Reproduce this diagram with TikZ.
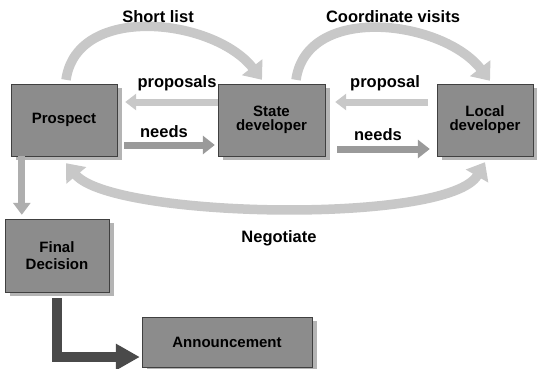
\documentclass[tikz,border=0pt]{standalone}
\usepackage{fontspec}
\setmainfont{Liberation Sans}
\usepackage{xcolor}
\usepackage{tikz}
\usetikzlibrary{arrows.meta,positioning,shadows}
\definecolor{boxgray}{HTML}{8C8C8C}
\definecolor{shadowgray}{HTML}{B4B4B4}
\definecolor{palegray}{HTML}{C8C8C8}
\definecolor{midgray}{HTML}{9A9A9A}
\definecolor{darkgray}{HTML}{4A4A4A}
\tikzset{
  stepbox/.style={draw=black!75, fill=boxgray, align=center, inner sep=0pt,
    font=\fontsize{15}{17.5}\selectfont\bfseries,
    drop shadow={shadow xshift=5pt, shadow yshift=-4pt, fill=shadowgray, opacity=1}},
  lbl/.style={font=\fontsize{16.5}{19}\selectfont\bfseries, anchor=base, inner sep=0pt},
  backarrow/.style={draw=palegray, line width=7pt, -{Triangle[width=16pt,length=11pt]}},
  fwdarrow/.style={draw=midgray, line width=7pt, -{Triangle[width=18pt,length=12pt]}},
  arcarrow/.style={draw=palegray, line width=9.5pt, -{Triangle[width=25pt,length=16pt]}},
  downarrow/.style={draw=midgray!80, line width=7pt, -{Triangle[width=17pt,length=12pt]}},
  darkarrow/.style={draw=darkgray, line width=10pt, -{Triangle[width=25pt,length=24pt]}}
}
\begin{document}
\begin{tikzpicture}[x=1pt, y=1pt]
  \useasboundingbox[fill=white] (0,0) rectangle (537,368);
  % boxes
  \node[stepbox, minimum width=106pt, minimum height=72pt] (prospect) at (64,248) {\raisebox{-4pt}{Prospect}};
  \node[stepbox, minimum width=107pt, minimum height=72pt] (state) at (271.5,248) {\raisebox{-4pt}{\shortstack{State\\developer}}};
  \node[stepbox, minimum width=96pt, minimum height=72pt] (local) at (485,248) {\raisebox{-2pt}{\shortstack{Local\\developer}}};
  \node[stepbox, minimum width=104pt, minimum height=73pt] (final) at (57,112.5) {Final\\Decision};
  \node[stepbox, minimum width=170pt, minimum height=50pt] (announce) at (227,26) {Announcement};
  % straight arrows between the boxes
  \draw[backarrow] ([yshift=18pt]state.west) -- ([xshift=8pt,yshift=18pt]prospect.east);
  \draw[fwdarrow] ([xshift=7pt,yshift=-25pt]prospect.east) -- ([xshift=-3pt,yshift=-25pt]state.west);
  \draw[backarrow] ([xshift=-9pt,yshift=18pt]local.west) -- ([xshift=10pt,yshift=18pt]state.east);
  \draw[fwdarrow] ([xshift=12pt,yshift=-29pt]state.east) -- ([xshift=-7pt,yshift=-29pt]local.west);
  % arcs
  \draw[arcarrow] ([xshift=2pt,yshift=4pt]prospect.north) to[out=82, in=128, looseness=1.02] ([xshift=-9.5pt,yshift=4pt]state.north);
  \draw[arcarrow] ([xshift=24.5pt,yshift=4pt]state.north) to[out=82, in=128, looseness=1.02] ([xshift=5pt,yshift=3pt]local.north);
  \draw[arcarrow, {Triangle[width=25pt,length=16pt]}-{Triangle[width=25pt,length=16pt]}]
    ([xshift=2pt,yshift=-7pt]prospect.south) to[out=-50, in=-120, looseness=0.44] ([yshift=-6pt]local.south);
  % decision path
  \draw[downarrow] ([xshift=11pt]prospect.south west) -- ([xshift=17pt,yshift=4pt]final.north west);
  \draw[darkarrow] ([yshift=-6pt]final.south) |- ([xshift=-2pt,yshift=-15pt]announce.west);
  % labels
  \node[lbl] (shortlist) at (158,346) {Short list};
  \node[lbl] (coordinate) at (393,346) {Coordinate visits};
  \node[lbl] (proposals) at (177,281) {proposals};
  \node[lbl] (needsa) at (164,231) {needs};
  \node[lbl] (proposal) at (385,281) {proposal};
  \node[lbl] (needsb) at (378,228) {needs};
  \node[lbl] (negotiate) at (279,126) {Negotiate};
\end{tikzpicture}
\end{document}
